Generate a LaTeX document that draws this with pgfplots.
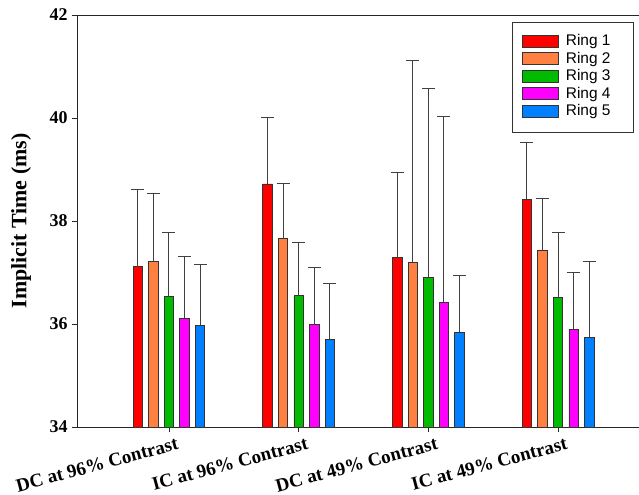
\documentclass[border=0pt]{standalone}
\usepackage{fontspec}
\setmainfont{Liberation Serif}
\newfontfamily\arialfont{Liberation Sans}
\usepackage{pgfplots}
\pgfplotsset{compat=1.18}
\usepackage{pgfplotstable}

\definecolor{cRed}{RGB}{255,0,0}
\definecolor{cOrange}{RGB}{255,128,64}
\definecolor{cGreen}{RGB}{0,187,0}
\definecolor{cMag}{RGB}{255,0,255}
\definecolor{cBlue}{RGB}{0,128,255}
\definecolor{errgray}{RGB}{64,64,64}

% x = group index + offset, y = mean, e = upper error
\pgfplotstableread{
x y e
-0.24 37.11 1.51
0.76 38.72 1.29
1.76 37.29 1.66
2.76 38.42 1.10
}\ringA
\pgfplotstableread{
x y e
-0.12 37.21 1.33
0.88 37.66 1.07
1.88 37.20 3.91
2.88 37.43 1.01
}\ringB
\pgfplotstableread{
x y e
0.00 36.53 1.25
1.00 36.55 1.03
2.00 36.91 3.67
3.00 36.51 1.26
}\ringC
\pgfplotstableread{
x y e
0.12 36.11 1.20
1.12 35.99 1.10
2.12 36.42 3.60
3.12 35.90 1.10
}\ringD
\pgfplotstableread{
x y e
0.24 35.98 1.17
1.24 35.70 1.08
2.24 35.84 1.11
3.24 35.74 1.47
}\ringE

\begin{document}
\begin{tikzpicture}
\begin{axis}[
  at={(0,0)}, anchor=south west,
  scale only axis, width=562bp, height=412bp,
  xmin=-0.709, xmax=3.624, ymin=34, ymax=42,
  axis x line*=box, axis y line*=left,
  axis line style={line width=0.9pt, black!85},
  xtick={0,1,2,3},
  xticklabels={DC at 96\% Contrast, IC at 96\% Contrast, DC at 49\% Contrast, IC at 49\% Contrast},
  ytick={34,36,38,40,42},
  xtick pos=left, ytick pos=left,
  tick align=outside,
  major tick length=5bp,
  tick style={line width=0.9pt, black!85},
  /pgf/number format/assume math mode=true,
  yticklabel style={font=\fontsize{18}{18}\selectfont\bfseries, xshift=-1bp},
  xticklabel style={font=\fontsize{19}{19}\selectfont\bfseries, rotate=15, anchor=north east, xshift=9bp, yshift=-3bp},
  ylabel={Implicit Time (ms)},
  every axis y label/.style={at={(axis description cs:0,0.5)}, xshift=-56bp, rotate=90, anchor=center,
    font=\fontsize{22}{22}\selectfont\bfseries},
  ybar,
  bar width=0.073,
  legend image code/.code={\path (-4bp,0bp) (41bp,0bp); \draw[#1, line width=0.8pt] (0bp,-5bp) rectangle (36bp,7bp);},
  legend cell align=left,
  legend style={at={(rel axis cs:0.991,0.983)}, anchor=north east,
    draw=black!80, line width=0.8pt, inner xsep=6bp, inner ysep=11bp,
    font=\arialfont\fontsize{15.5}{15.5}\selectfont,
    nodes={inner sep=2bp, text height=10.5bp, text depth=3bp}},
  error bars/error bar style={line width=1pt, draw=errgray},
  error bars/error mark options={rotate=90, mark size=6.5bp, line width=1pt, draw=errgray},
]
\addplot[bar shift=0pt, fill=cRed, draw=black!80, line width=0.7pt,
  error bars/.cd, y dir=plus, y explicit] table[x=x, y=y, y error=e]{\ringA};
\addlegendentry{Ring 1\hspace*{15bp}\null}
\addplot[bar shift=0pt, fill=cOrange, draw=black!80, line width=0.7pt,
  error bars/.cd, y dir=plus, y explicit] table[x=x, y=y, y error=e]{\ringB};
\addlegendentry{Ring 2\hspace*{15bp}\null}
\addplot[bar shift=0pt, fill=cGreen, draw=black!80, line width=0.7pt,
  error bars/.cd, y dir=plus, y explicit] table[x=x, y=y, y error=e]{\ringC};
\addlegendentry{Ring 3\hspace*{15bp}\null}
\addplot[bar shift=0pt, fill=cMag, draw=black!80, line width=0.7pt,
  error bars/.cd, y dir=plus, y explicit] table[x=x, y=y, y error=e]{\ringD};
\addlegendentry{Ring 4\hspace*{15bp}\null}
\addplot[bar shift=0pt, fill=cBlue, draw=black!80, line width=0.7pt,
  error bars/.cd, y dir=plus, y explicit] table[x=x, y=y, y error=e]{\ringE};
\addlegendentry{Ring 5\hspace*{15bp}\null}
\end{axis}
\pgfresetboundingbox
\path[use as bounding box] (-77bp,-68bp) rectangle (562bp,427bp);
\end{tikzpicture}
\end{document}
